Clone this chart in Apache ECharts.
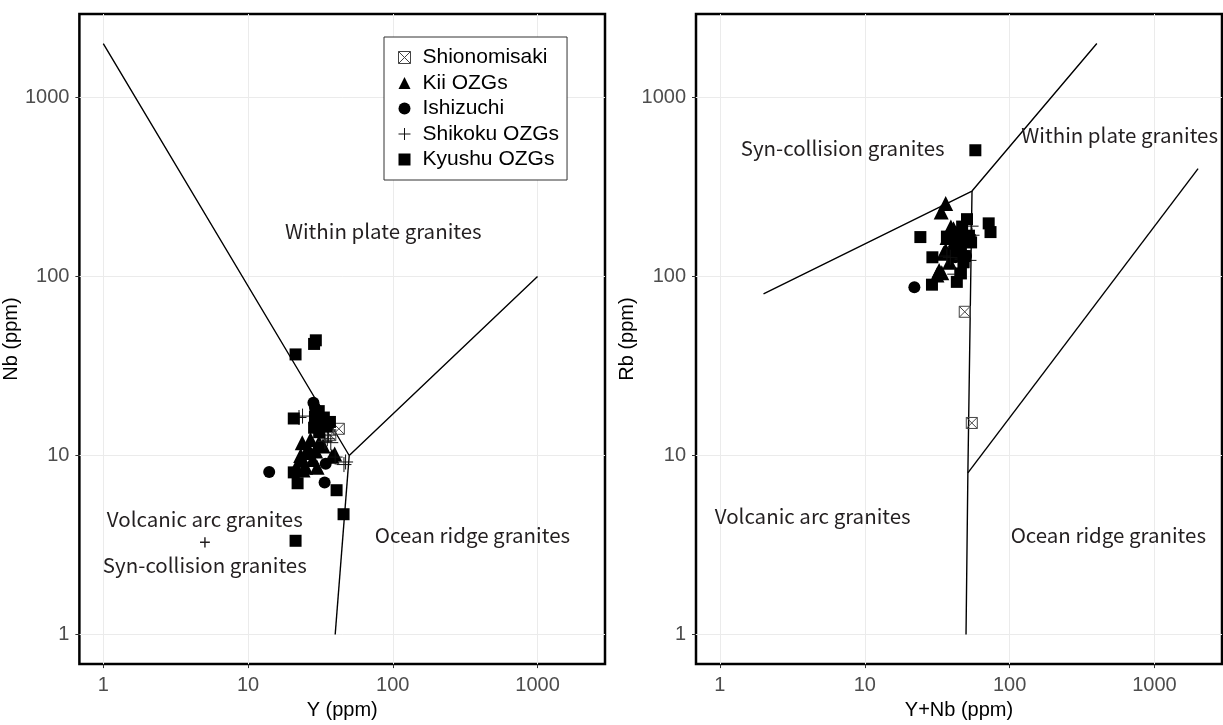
<!DOCTYPE html>
<html>
<head>
<meta charset="utf-8">
<title>Granite discrimination diagrams</title>
<script src="https://cdn.jsdelivr.net/npm/echarts@6/dist/echarts.min.js"></script>
<style>
  html, body { margin: 0; padding: 0; background: #ffffff; }
  #chart { width: 1223px; height: 725px; }
</style>
</head>
<body>
<div id="chart"></div>
<script>
// Sample groups, in legend order
const groupNames = ['Shionomisaki', 'Kii OZGs', 'Ishizuchi', 'Shikoku OZGs', 'Kyushu OZGs'];

// Nb vs Y diagram: [Y (ppm), Nb (ppm)]
const shionomisakiNbY = [[42.4, 14.1], [37, 13]];
const kiiNbY = [[23.7, 11.8], [27, 12.3], [30.9, 11.8], [23.1, 10], [25.6, 10.4], [29.3, 10.6], [23.1, 9.4],
  [25, 8.6], [30, 8.6], [39.7, 10.2], [26, 11], [28, 9.5], [24, 8.3], [33, 11.3], [38, 9.9], [21.5, 8.6]];
const ishizuchiNbY = [[14, 8.1], [34.4, 9.0], [33.8, 7.06], [28.3, 19.7], [29, 18.5]];
const shikokuNbY = [[23.8, 16.6], [22.5, 16.3], [35.3, 12.4], [37.3, 11.8], [36, 13], [47.2, 9.2], [46, 8.9],
  [40, 9.8], [33, 14.5], [34, 12]];
const kyushuNbY = [[21.3, 36.7], [28.6, 42], [29.4, 44], [20.7, 16.1], [30.8, 17.7], [33.4, 16.3], [36.8, 15.4],
  [30.3, 15.3], [28.6, 14.3], [32, 15], [20.7, 8.05], [22, 7.0], [40.9, 6.4], [45.7, 4.7], [21.3, 3.34],
  [29, 16.5], [35, 14.5], [31, 13.5]];

// Rb vs Y+Nb diagram: [Y+Nb (ppm), Rb (ppm)]
const shionomisakiRb = [[49, 63.5], [54.8, 15.2]];
const kiiRb = [[36.2, 256], [33.7, 229], [32.6, 108], [34, 105], [31.5, 102], [36.2, 140], [39.3, 189], [38, 175],
  [35, 135], [42, 160], [40, 145], [44, 170], [38.5, 120], [45, 150], [41, 185], [37, 165]];
const ishizuchiRb = [[22, 87], [45, 140], [48, 160], [50, 130], [42, 128]];
const shikokuRb = [[36.9, 130], [54.2, 191], [52.4, 123], [41.8, 103], [47, 125], [50, 180], [44, 135], [55, 170],
  [39, 128], [49, 145]];
const kyushuRb = [[58, 507], [24.2, 166], [29.3, 128], [29.1, 90], [43.2, 93.3], [46.1, 104], [50.8, 209],
  [71.7, 198], [73.8, 177], [36.9, 167], [44.6, 176], [52.4, 169], [46.1, 150], [54.2, 155], [43.2, 139],
  [49.1, 130], [47, 190], [53, 160], [48, 120]];

// Field boundaries (Pearce et al. 1984)
const nbYBoundaries = [
  [[1, 2000], [50, 10], [1000, 100]],
  [[50, 10], [40, 1]]
];
const rbBoundaries = [
  [[2, 80], [55, 300], [400, 2000]],
  [[55, 300], [51.5, 8], [50, 1]],
  [[51.5, 8], [2000, 400]]
];

// Field names and their anchor values
const nbYFields = [
  { text: 'Within plate granites', at: [86, 180] },
  { text: 'Volcanic arc granites\n+\nSyn-collision granites', at: [5.03, 3.3] },
  { text: 'Ocean ridge granites', at: [355, 3.6] }
];
const rbFields = [
  { text: 'Syn-collision granites', at: [7.04, 520] },
  { text: 'Within plate granites', at: [575, 613] },
  { text: 'Volcanic arc granites', at: [4.37, 4.6] },
  { text: 'Ocean ridge granites', at: [480, 3.6] }
];

const decadeTicks = [1, 10, 100, 1000];
// 1–2000 ppm with a 5 % margin on each side (in log space)
const axisMin = Math.pow(10, -0.16505);
const axisMax = Math.pow(10, 3.46608);

const tickFont = 'Liberation Sans, Arial, Helvetica, sans-serif';
const fieldFont = '"Noto Sans CJK JP", "Noto Sans", sans-serif';

const SQUARE_CROSS = 'path://M0,0H10V10H0ZM0,0L10,10M10,0L0,10';
const PLUS = 'path://M5,0V10M0,5H10';

const symbolStyles = {
  'Shionomisaki': { symbol: SQUARE_CROSS, symbolSize: 11, itemStyle: { color: 'none', borderColor: '#444', borderWidth: 1, opacity: 1 } },
  'Kii OZGs': { symbol: 'triangle', symbolSize: 15, itemStyle: { color: '#000', opacity: 1 } },
  'Ishizuchi': { symbol: 'circle', symbolSize: 12, itemStyle: { color: '#000', opacity: 1 } },
  'Shikoku OZGs': { symbol: PLUS, symbolSize: 15, itemStyle: { color: 'none', borderColor: '#111', borderWidth: 1, opacity: 1 } },
  'Kyushu OZGs': { symbol: 'rect', symbolSize: 12, itemStyle: { color: '#000', opacity: 1 } }
};

function logAxis(gridIndex, name, isX) {
  return {
    type: 'log',
    logBase: 10,
    gridIndex: gridIndex,
    min: axisMin,
    max: axisMax,
    name: name,
    nameLocation: 'middle',
    nameGap: isX ? 34 : 49,
    nameTextStyle: { color: '#000', fontSize: 20, fontFamily: tickFont },
    axisLine: { show: false },
    axisTick: { show: true, length: 4, customValues: decadeTicks, lineStyle: { color: '#333', width: 1 } },
    axisLabel: {
      customValues: decadeTicks,
      color: '#4d4d4d', fontSize: 20, fontFamily: tickFont, margin: isX ? 11 : 10,
      formatter: v => String(Math.round(v))
    },
    splitLine: { show: true, lineStyle: { color: '#ebebeb', width: 1 } },
    minorTick: { show: false },
    minorSplitLine: { show: false }
  };
}

function boundarySeries(lines, axisIdx) {
  return lines.map(pts => ({
    type: 'line',
    xAxisIndex: axisIdx, yAxisIndex: axisIdx,
    data: pts,
    showSymbol: false,
    symbol: 'none',
    silent: true,
    lineStyle: { color: '#000', width: 1.4 },
    z: 1
  }));
}

function fieldSeries(fields, axisIdx) {
  return {
    type: 'custom',
    xAxisIndex: axisIdx, yAxisIndex: axisIdx,
    silent: true,
    z: 3,
    data: fields.map(f => f.at),
    renderItem: (params, api) => {
      const p = api.coord([api.value(0), api.value(1)]);
      return {
        type: 'text',
        x: p[0], y: p[1],
        style: {
          text: fields[params.dataIndex].text,
          fontSize: 20.5, fontFamily: fieldFont,
          lineHeight: 23,
          fill: '#231f20',
          align: 'center', verticalAlign: 'middle'
        }
      };
    }
  };
}

function sampleSeries(name, data, axisIdx) {
  const s = symbolStyles[name];
  return {
    type: 'scatter',
    name: name,
    xAxisIndex: axisIdx, yAxisIndex: axisIdx,
    data: data,
    symbol: s.symbol,
    symbolSize: s.symbolSize,
    itemStyle: s.itemStyle,
    emphasis: { disabled: true },
    z: 5
  };
}

const nbYGroups = [shionomisakiNbY, kiiNbY, ishizuchiNbY, shikokuNbY, kyushuNbY];
const rbGroups = [shionomisakiRb, kiiRb, ishizuchiRb, shikokuRb, kyushuRb];

const chart = echarts.init(document.getElementById('chart'), null, { renderer: 'canvas' });

chart.setOption({
  animation: false,
  backgroundColor: '#ffffff',
  grid: [
    { left: 78, top: 14, width: 527, height: 656, show: true, borderColor: '#000', borderWidth: 2.5, backgroundColor: 'transparent', containLabel: false },
    { left: 696, top: 14, width: 526, height: 656, show: true, borderColor: '#000', borderWidth: 2.5, backgroundColor: 'transparent', containLabel: false }
  ],
  xAxis: [logAxis(0, 'Y (ppm)', true), logAxis(1, 'Y+Nb (ppm)', true)],
  yAxis: [logAxis(0, 'Nb (ppm)', false), logAxis(1, 'Rb (ppm)', false)],
  legend: {
    orient: 'vertical',
    left: 384, top: 37,
    padding: [10, 8, 10, 12],
    backgroundColor: '#ffffff',
    borderColor: '#333', borderWidth: 1, borderRadius: 0,
    itemWidth: 12, itemHeight: 12, itemGap: 4.5,
    selectedMode: false,
    textStyle: { color: '#000', fontSize: 21, fontFamily: tickFont, lineHeight: 21, padding: [0, 0, 0, 7] },
    data: groupNames.map(n => ({
      name: n,
      itemStyle: (n === 'Shionomisaki' || n === 'Shikoku OZGs') ? { borderWidth: 1, opacity: 1 } : { borderWidth: 0, opacity: 1 }
    }))
  },
  series: [
    ...boundarySeries(nbYBoundaries, 0),
    ...boundarySeries(rbBoundaries, 1),
    fieldSeries(nbYFields, 0),
    fieldSeries(rbFields, 1),
    ...groupNames.map((n, i) => sampleSeries(n, nbYGroups[i], 0)),
    ...groupNames.map((n, i) => sampleSeries(n, rbGroups[i], 1))
  ]
});
</script>
</body>
</html>
